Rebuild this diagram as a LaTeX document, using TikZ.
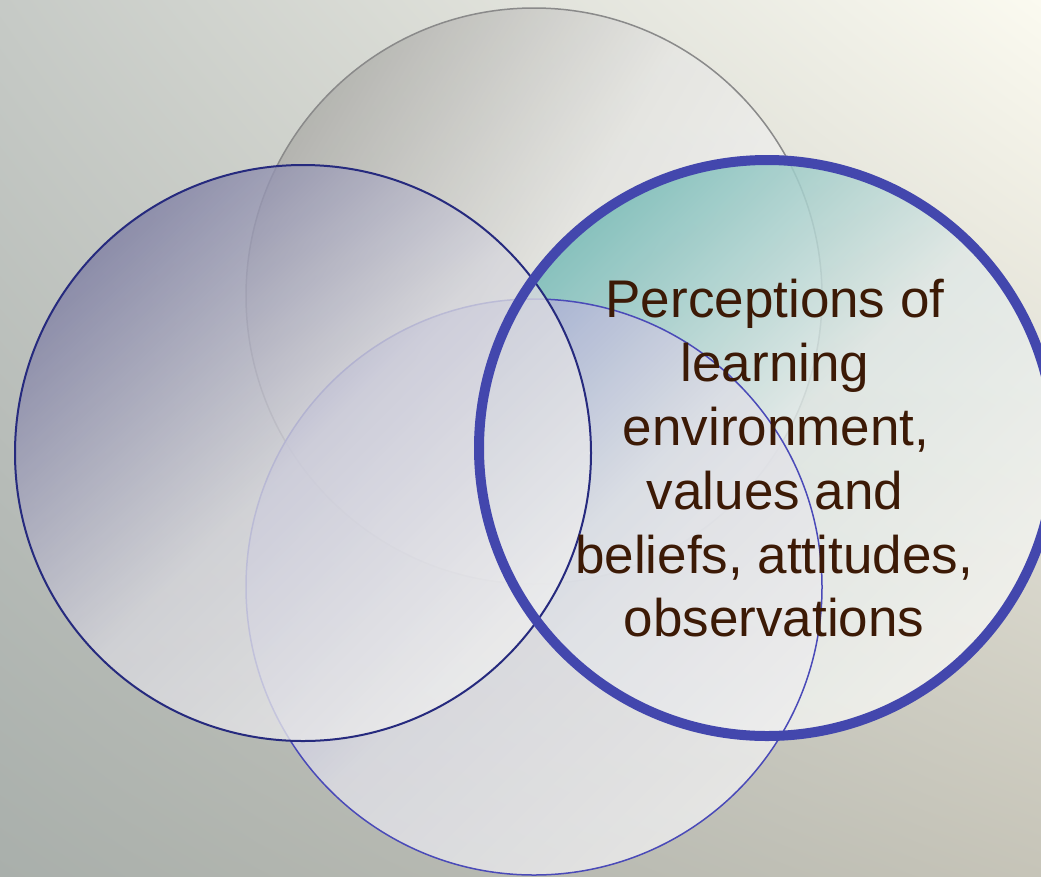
\documentclass[tikz,border=0pt]{standalone}
\usepackage{fontspec}
\setmainfont{Liberation Sans}
\usetikzlibrary{shadings}
\definecolor{bgUL}{HTML}{C6CAC6}
\definecolor{bgUR}{HTML}{FBFAF0}
\definecolor{bgLL}{HTML}{A9AFAB}
\definecolor{bgLR}{HTML}{C6C4B8}
\definecolor{topA}{HTML}{B0B0AC}
\definecolor{topM}{HTML}{E6E6E3}
\definecolor{topB}{HTML}{F6F6F4}
\definecolor{topLine}{HTML}{8A8A8A}
\definecolor{leftA}{HTML}{8080A4}
\definecolor{leftM}{HTML}{D6D6DC}
\definecolor{leftB}{HTML}{EEEEEE}
\definecolor{leftLine}{HTML}{262A7E}
\definecolor{botA}{HTML}{9C9CD0}
\definecolor{botM}{HTML}{DEDEE6}
\definecolor{botB}{HTML}{EEEEEE}
\definecolor{botLine}{HTML}{4A4AB8}
\definecolor{rightA}{HTML}{78BCB8}
\definecolor{rightM}{HTML}{E0E8E6}
\definecolor{rightB}{HTML}{F4F4F0}
\definecolor{rightLine}{HTML}{4347AD}
\definecolor{txt}{HTML}{3C1A06}
\begin{document}
\begin{tikzpicture}[x=1pt,y=-1pt,
  ring/.style={line width=1.5pt},
  lbl/.style={anchor=base, inner sep=0pt, text=txt, font=\fontsize{53}{64}\selectfont}]
\useasboundingbox (0,0) rectangle (1041,876);
\shade[upper left=bgUL, upper right=bgUR, lower left=bgLL, lower right=bgLR] (0,0) rectangle (1041,876);
\coordinate (cT) at (534,296);
\coordinate (cL) at (303,453);
\coordinate (cB) at (534,587);
\coordinate (cR) at (767,448);
% top circle
\shade[fill opacity=0.85, top color=topA, bottom color=topB, middle color=topM, shading angle=60] (cT) circle[radius=288pt];
\draw[ring, topLine] (cT) circle[radius=288pt];
% right circle fill
\shade[fill opacity=0.85, top color=rightA, bottom color=rightB, middle color=rightM, shading angle=45] (cR) circle[radius=288pt];
% bottom circle
\shade[fill opacity=0.8, top color=botA, bottom color=botB, middle color=botM, shading angle=45] (cB) circle[radius=288pt];
\draw[ring, botLine] (cB) circle[radius=288pt];
% left circle
\shade[fill opacity=0.8, top color=leftA, bottom color=leftB, middle color=leftM, shading angle=45] (cL) circle[radius=288pt];
\draw[ring, leftLine, line width=2pt] (cL) circle[radius=288pt];
% right circle border
\draw[rightLine, line width=10pt] (cR) circle[radius=288pt];
% text
\node[lbl] (t1) at (775,317) {Perceptions of};
\node[lbl] (t2) at (775,381) {learning};
\node[lbl] (t3) at (776,445) {environment,};
\node[lbl] (t4) at (775,509) {values and};
\node[lbl] (t5) at (774,573) {beliefs, attitudes,};
\node[lbl] (t6) at (774,636) {observations};
\end{tikzpicture}
\end{document}
